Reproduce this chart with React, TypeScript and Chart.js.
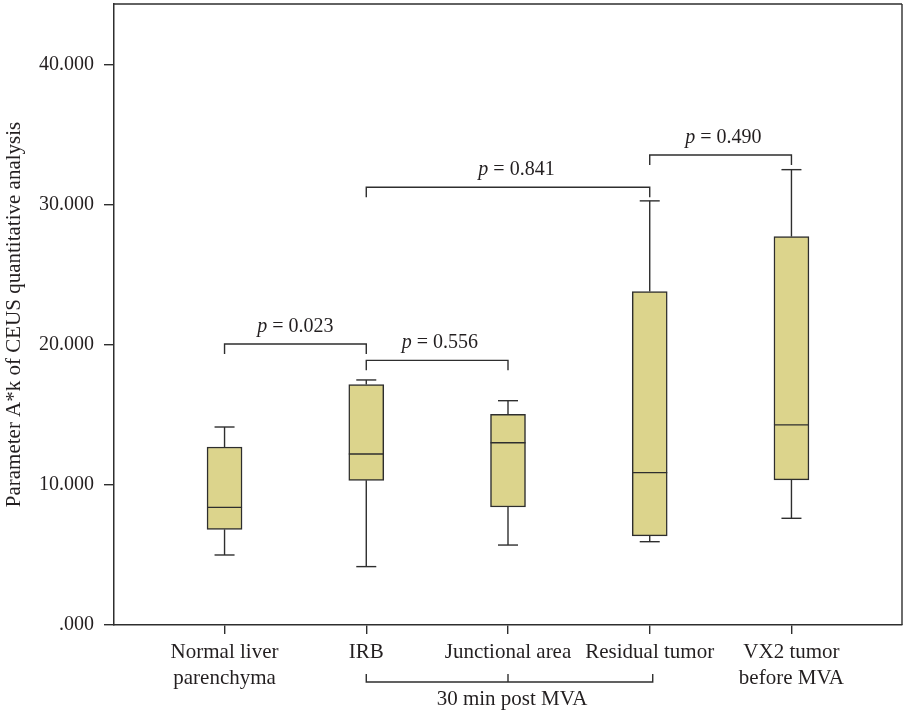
import React, { useEffect, useRef } from 'react';
import { Chart, registerables } from 'chart.js';

Chart.register(...registerables);

// ---- data ----
const categories: (string | string[])[] = [
  ['Normal liver', 'parenchyma'],
  'IRB',
  'Junctional area',
  'Residual tumor',
  ['VX2 tumor', 'before MVA'],
];
const positions = [1, 2, 3, 4, 5];
const whiskerLow = [5.0, 4.17, 5.71, 5.95, 7.62];
const q1 = [6.83, 10.33, 8.43, 6.36, 10.36];
const median = [8.4, 12.21, 13.02, 10.88, 14.29];
const q3 = [12.71, 17.17, 15.05, 23.81, 27.74];
const whiskerHigh = [14.14, 17.5, 16.02, 30.29, 32.52];
const yTicks = [0, 10, 20, 30, 40];

const bracketFrom = [1, 2, 2, 4];
const bracketTo = [2, 3, 4, 5];
const bracketLevel = [20.07, 18.9, 31.26, 33.57];
const pValues = ['0.023', '0.556', '0.841', '0.490'];
const pLabelX = [1.5, 2.52, 3.06, 4.52];

const groupLabel = '30 min post MVA';
const groupFrom = 2;
const groupTo = 4;
const groupMid = 3;

const yTitle = 'Parameter A*k of CEUS quantitative analysis';

// ---- styles ----
const FONT = '"Liberation Serif", "Times New Roman", serif';
const LINE = '#2e2e2e';
const TEXT = '#231f20';
const FILL = '#dcd48c';

const formatTick = (v: number) => (v === 0 ? '.000' : v.toFixed(3));

const extrasPlugin = {
  id: 'boxExtras',
  afterDatasetsDraw(chart: any) {
    const { ctx, chartArea } = chart;
    const x = chart.scales.x;
    const y = chart.scales.y;
    const boxHalf = 17.5;
    const capHalf = 10;
    const seg = (x1: number, y1: number, x2: number, y2: number) => {
      ctx.beginPath();
      ctx.moveTo(x1, y1);
      ctx.lineTo(x2, y2);
      ctx.stroke();
    };
    ctx.save();
    ctx.strokeStyle = LINE;
    ctx.lineWidth = 1.4;

    // frame: top and right
    seg(chartArea.left, chartArea.top, chartArea.right, chartArea.top);
    seg(chartArea.right, chartArea.top, chartArea.right, chartArea.bottom);

    // whiskers + medians
    positions.forEach((p, i) => {
      const px = x.getPixelForValue(p);
      const yq1 = y.getPixelForValue(q1[i]);
      const yq3 = y.getPixelForValue(q3[i]);
      const ylo = y.getPixelForValue(whiskerLow[i]);
      const yhi = y.getPixelForValue(whiskerHigh[i]);
      const ym = y.getPixelForValue(median[i]);
      seg(px, yq3, px, yhi);
      seg(px - capHalf, yhi, px + capHalf, yhi);
      seg(px, yq1, px, ylo);
      seg(px - capHalf, ylo, px + capHalf, ylo);
      seg(px - boxHalf, ym, px + boxHalf, ym);
    });

    // significance brackets
    const drop = 10;
    ctx.fillStyle = TEXT;
    ctx.textBaseline = 'alphabetic';
    bracketFrom.forEach((f, i) => {
      const x1 = x.getPixelForValue(f);
      const x2 = x.getPixelForValue(bracketTo[i]);
      const by = y.getPixelForValue(bracketLevel[i]);
      ctx.beginPath();
      ctx.moveTo(x1, by + drop);
      ctx.lineTo(x1, by);
      ctx.lineTo(x2, by);
      ctx.lineTo(x2, by + drop);
      ctx.stroke();

      const cx = x.getPixelForValue(pLabelX[i]);
      const rest = ' = ' + pValues[i];
      ctx.font = `italic 20px ${FONT}`;
      const wp = ctx.measureText('p').width;
      ctx.font = `20px ${FONT}`;
      const wr = ctx.measureText(rest).width;
      const start = cx - (wp + wr) / 2;
      const ty = by - 12;
      ctx.textAlign = 'left';
      ctx.font = `italic 20px ${FONT}`;
      ctx.fillText('p', start, ty);
      ctx.font = `20px ${FONT}`;
      ctx.fillText(rest, start + wp, ty);
    });

    // group bracket below axis
    const gx1 = x.getPixelForValue(groupFrom);
    const gx2 = x.getPixelForValue(groupTo) + 3;
    const gm = x.getPixelForValue(groupMid);
    const gy = chartArea.bottom + 57;
    ctx.beginPath();
    ctx.moveTo(gx1, gy - 8);
    ctx.lineTo(gx1, gy);
    ctx.lineTo(gx2, gy);
    ctx.lineTo(gx2, gy - 8);
    ctx.stroke();
    seg(gm, gy, gm, gy - 8);
    ctx.textAlign = 'center';
    ctx.font = `21px ${FONT}`;
    ctx.fillText(groupLabel, gm + 4, chartArea.bottom + 80);

    ctx.restore();
  },
};

export default function App() {
  const ref = useRef<HTMLCanvasElement | null>(null);

  useEffect(() => {
    if (!ref.current) return;
    const chart = new Chart(ref.current, {
      type: 'bar',
      data: {
        datasets: [
          {
            data: positions.map((p, i) => ({ x: p, y: [q1[i], q3[i]] })) as any,
            backgroundColor: FILL,
            borderColor: LINE,
            borderWidth: 1.5,
            borderSkipped: false,
            barThickness: 35,
          },
        ],
      },
      options: {
        responsive: false,
        animation: false,
        devicePixelRatio: 1,
        layout: { padding: { top: 4, right: 1, left: 0, bottom: 0 } },
        plugins: {
          legend: { display: false },
          tooltip: { enabled: false },
        },
        scales: {
          x: {
            type: 'linear',
            min: 0.22,
            max: 5.78,
            offset: false,
            afterBuildTicks: (s: any) => {
              s.ticks = positions.map((v) => ({ value: v }));
            },
            afterFit: (s: any) => {
              s.height = 87;
              s.paddingLeft = 0;
              s.paddingRight = 0;
            },
            grid: {
              offset: false,
              drawOnChartArea: false,
              drawTicks: true,
              tickLength: 9,
              color: LINE,
              lineWidth: 1.4,
            },
            border: { display: true, color: LINE, width: 1.5 },
            ticks: {
              padding: 5,
              color: TEXT,
              font: { family: FONT, size: 21, lineHeight: 1.25 },
              maxRotation: 0,
              autoSkip: false,
              callback: (_v: any, idx: number) => categories[idx] as any,
            },
          },
          y: {
            type: 'linear',
            min: 0,
            max: 44.35,
            afterBuildTicks: (s: any) => {
              s.ticks = yTicks.map((v) => ({ value: v }));
            },
            afterFit: (s: any) => {
              s.width = 114;
              s.paddingTop = 0;
              s.paddingBottom = 0;
            },
            grid: {
              drawOnChartArea: false,
              drawTicks: true,
              tickLength: 10,
              color: LINE,
              lineWidth: 1.4,
            },
            border: { display: true, color: LINE, width: 1.5 },
            ticks: {
              padding: 10,
              color: TEXT,
              font: { family: FONT, size: 20 },
              callback: (v: any) => formatTick(Number(v)),
            },
            title: {
              display: true,
              text: yTitle,
              color: TEXT,
              font: { family: FONT, size: 21, lineHeight: 1.2 },
              padding: { top: 2, bottom: 0 },
            },
          },
        },
      },
      plugins: [extrasPlugin],
    });
    return () => chart.destroy();
  }, []);

  return (
    <div style={{ position: 'absolute', left: 0, top: 0, width: 903, height: 712, background: '#fff' }}>
      <canvas ref={ref} width={903} height={712} style={{ width: 903, height: 712 }} />
    </div>
  );
}
